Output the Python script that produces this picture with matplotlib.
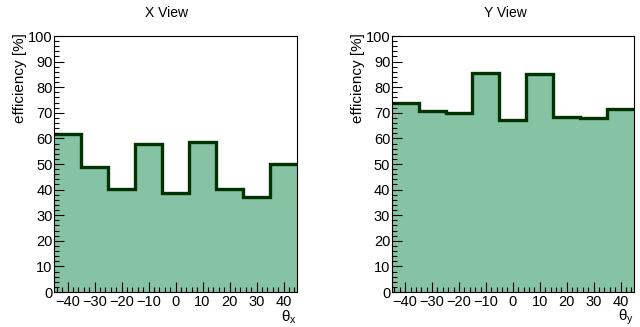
import matplotlib
matplotlib.use("Agg")
import matplotlib.pyplot as plt
from matplotlib.ticker import MultipleLocator
import numpy as np

plt.rcParams['font.family'] = ['Liberation Sans', 'DejaVu Sans']
plt.rcParams['mathtext.fontset'] = 'custom'
plt.rcParams['mathtext.rm'] = 'Liberation Sans'
plt.rcParams['mathtext.it'] = 'Liberation Sans:italic'

bin_edges = [-45, -35, -25, -15, -5, 5, 15, 25, 35, 45]
x_view_eff = [61.6, 48.7, 40.2, 57.9, 38.8, 58.6, 40.2, 37.1, 50.0]
y_view_eff = [73.7, 70.7, 69.9, 85.4, 67.1, 85.2, 68.5, 68.0, 71.4]
titles = ["X View", "Y View"]
xlabels = [r"θ$_{\mathrm{x}}$", r"θ$_{\mathrm{y}}$"]
ylabel = "efficiency [%]"

fill_color = "#86C2A4"
line_color = "#003300"

fig = plt.figure(figsize=(6.4, 3.27), dpi=100)
W, H = 640, 327
axes_px = [(54, 297), (391.7, 634)]
top_px, bot_px = 36, 292
title_x = [166.7, 505]

for i, vals in enumerate([x_view_eff, y_view_eff]):
    x0, x1 = axes_px[i]
    ax = fig.add_axes([x0 / W, (H - bot_px) / H, (x1 - x0) / W, (bot_px - top_px) / H])
    ax.stairs(vals, bin_edges, fill=True, color=fill_color, baseline=0)
    ax.stairs(vals, bin_edges, baseline=None, color=line_color, linewidth=2.4)
    ax.set_xlim(-45, 45)
    ax.set_ylim(0, 100)
    ax.xaxis.set_major_locator(MultipleLocator(10))
    ax.xaxis.set_minor_locator(MultipleLocator(2))
    ax.yaxis.set_major_locator(MultipleLocator(10))
    ax.yaxis.set_minor_locator(MultipleLocator(2))
    ax.tick_params(which='both', direction='in', top=False, right=False,
                   labelsize=10.5, colors='black', width=0.8)
    ax.tick_params(which='major', length=7)
    ax.tick_params(which='minor', length=3.5)
    ax.tick_params(axis='y', pad=1)
    ax.tick_params(axis='x', pad=2)
    for s in ax.spines.values():
        s.set_linewidth(0.8)
    ax.set_axisbelow(False)
    fig.text(title_x[i] / W, 1 - 13 / H, titles[i], ha='center', va='center', fontsize=10)
    fig.text((x0 - 34) / W, 1 - 33 / H, ylabel, rotation=90, ha='center', va='top', fontsize=11)
    fig.text(x1 / W, 1 - 317 / H, xlabels[i], ha='right', va='center', fontsize=11)

fig.savefig("out.png", dpi=100)
